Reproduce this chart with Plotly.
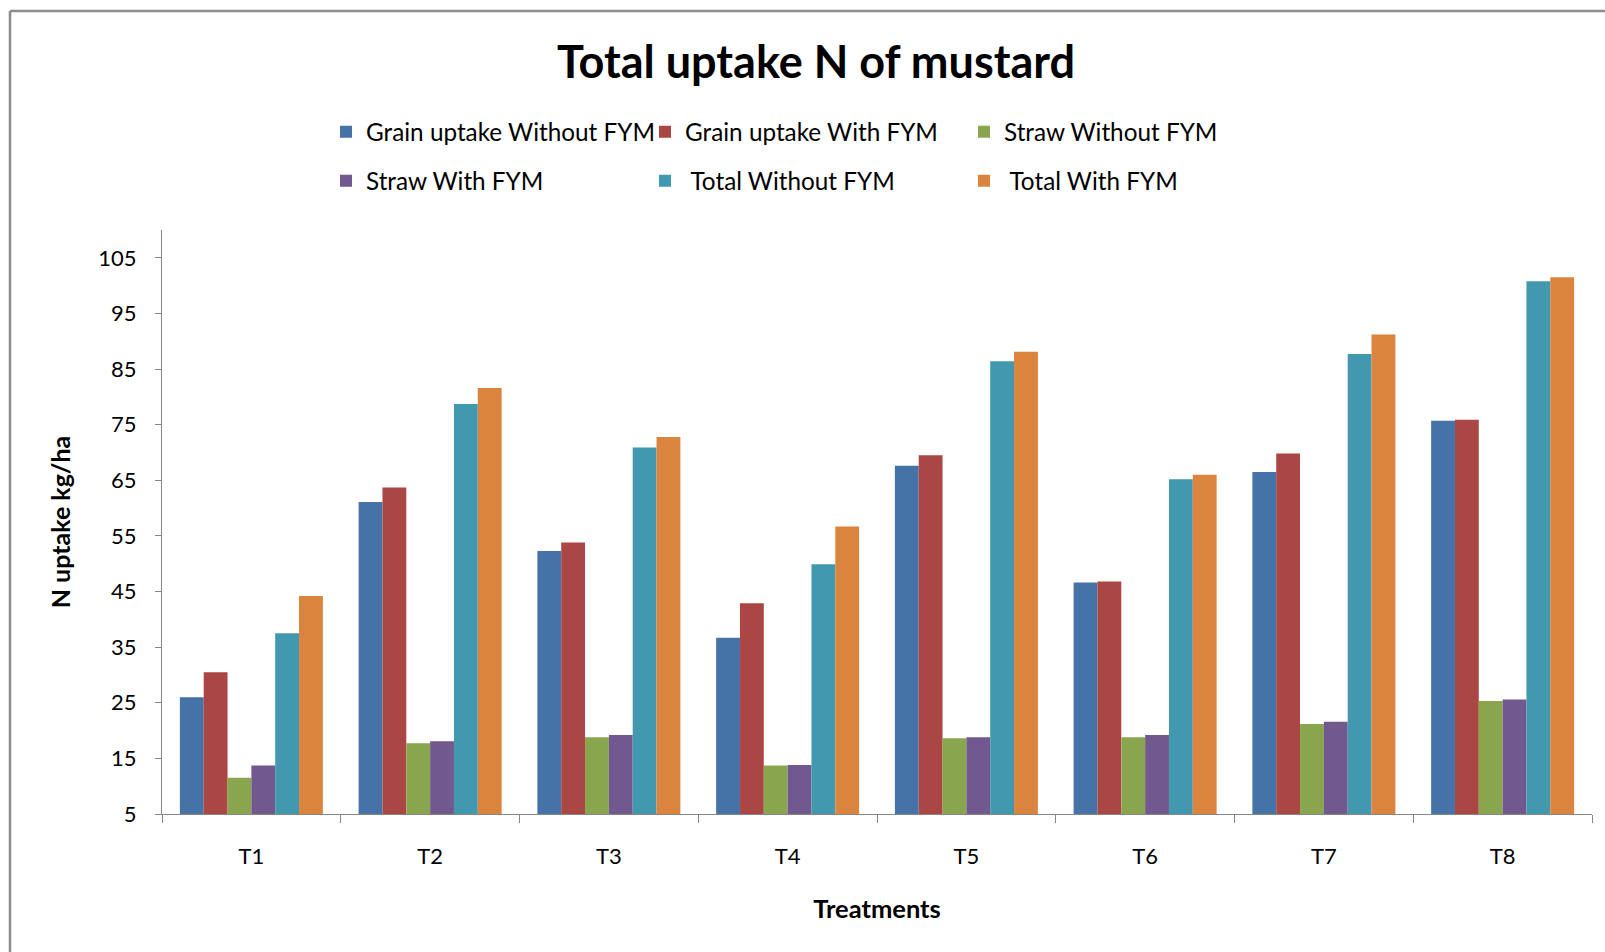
import plotly.graph_objects as go

# Treatments on the x axis
treatments = ["T1", "T2", "T3", "T4", "T5", "T6", "T7", "T8"]

# N uptake (kg/ha) per series
grain_without_fym = [26.0, 61.1, 52.3, 36.7, 67.6, 46.6, 66.5, 75.7]
grain_with_fym = [30.5, 63.7, 53.8, 42.9, 69.5, 46.8, 69.8, 75.9]
straw_without_fym = [11.5, 17.7, 18.8, 13.7, 18.6, 18.8, 21.2, 25.3]
straw_with_fym = [13.7, 18.1, 19.2, 13.8, 18.8, 19.2, 21.6, 25.6]
total_without_fym = [37.5, 78.7, 70.9, 49.9, 86.4, 65.2, 87.7, 100.8]
total_with_fym = [44.2, 81.6, 72.8, 56.7, 88.1, 66.0, 91.2, 101.5]

y_ticks = [5, 15, 25, 35, 45, 55, 65, 75, 85, 95, 105]

series = [
    ("Grain uptake Without FYM", grain_without_fym, "#4572A7", "legend"),
    ("Grain uptake With FYM", grain_with_fym, "#AA4643", "legend"),
    ("Straw Without FYM", straw_without_fym, "#89A54E", "legend"),
    ("Straw With FYM", straw_with_fym, "#71588F", "legend2"),
    ("\u00a0Total Without FYM", total_without_fym, "#4198AF", "legend2"),
    ("\u00a0Total With FYM", total_with_fym, "#DB843D", "legend2"),
]

FONT = "Lato"
AXIS_GREY = "#868686"

fig = go.Figure()
for name, values, color, leg in series:
    fig.add_trace(go.Bar(
        x=treatments, y=values, name=name, legend=leg,
        marker=dict(color=color, line=dict(width=0)),
    ))

W, H = 1605, 952
ML, MR, MT, MB = 162, 13, 230, 138

legend_common = dict(
    orientation="h", xanchor="left", yanchor="middle",
    entrywidth=274, entrywidthmode="pixels",
    font=dict(family=FONT, size=24.3, color="#000000"),
    bgcolor="rgba(0,0,0,0)", borderwidth=0,
    traceorder="normal", itemclick=False,
)

fig.update_layout(
    width=W, height=H,
    margin=dict(l=ML, r=MR, t=MT, b=MB, pad=0),
    paper_bgcolor="white", plot_bgcolor="white",
    barmode="group", bargap=0.2, bargroupgap=0,
    font=dict(family=FONT, color="#000000"),
    title=dict(
        text="<b>Total uptake N of mustard</b>",
        x=816 / W, xanchor="center", xref="container",
        y=1 - 62 / H, yanchor="middle", yref="container",
        font=dict(family=FONT, size=45, color="#000000"),
    ),
    legend=dict(x=(326 - ML) / (W - ML - MR), y=(H - MB - 132) / (H - MB - MT), **legend_common),
    legend2=dict(x=(326 - ML) / (W - ML - MR), y=(H - MB - 181) / (H - MB - MT), **legend_common),
    xaxis=dict(
        type="category",
        showline=True, linecolor=AXIS_GREY, linewidth=1,
        ticks="outside", tickson="boundaries", ticklen=8, tickcolor=AXIS_GREY,
        tickfont=dict(family=FONT, size=22, color="#000000"),
        ticklabelstandoff=23,
        showgrid=False, zeroline=False,
        title=dict(text="<b>Treatments</b>", font=dict(family=FONT, size=25.5), standoff=31),
    ),
    yaxis=dict(
        range=[5, 110], tickvals=y_ticks,
        showline=True, linecolor=AXIS_GREY, linewidth=1,
        ticks="outside", ticklen=6, tickcolor=AXIS_GREY,
        tickfont=dict(family=FONT, size=22, color="#000000"),
        ticklabelstandoff=14,
        showgrid=False, zeroline=False,
        title=dict(text="<b>N uptake kg/ha</b>", font=dict(family=FONT, size=25), standoff=20),
    ),
    shapes=[
        # chart frame (top and left edges visible)
        dict(type="line", xref="paper", yref="paper",
             x0=(10 - ML) / (W - ML - MR), x1=(W + 20 - ML) / (W - ML - MR),
             y0=(H - MB - 11) / (H - MB - MT), y1=(H - MB - 11) / (H - MB - MT),
             line=dict(color="#8c8c8c", width=2.5)),
        dict(type="line", xref="paper", yref="paper",
             x0=(10 - ML) / (W - ML - MR), x1=(10 - ML) / (W - ML - MR),
             y0=(H - MB - 11) / (H - MB - MT), y1=(H - MB - H - 20) / (H - MB - MT),
             line=dict(color="#8c8c8c", width=2.5)),
    ],
)

fig.write_html("out.html")
